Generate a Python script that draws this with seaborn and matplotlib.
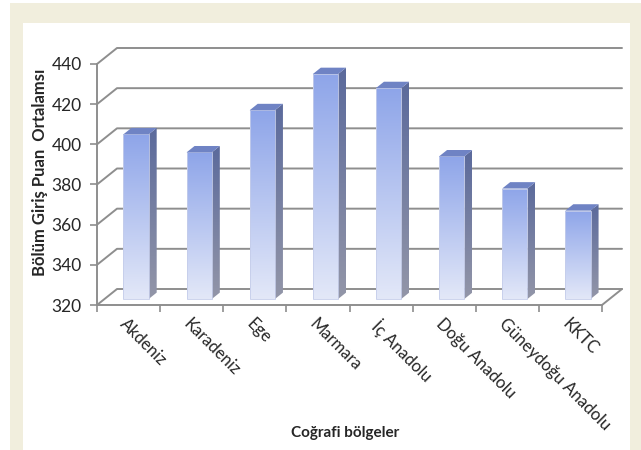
import numpy as np
import pandas as pd
import matplotlib
matplotlib.use('Agg')
import matplotlib.pyplot as plt
from matplotlib.patches import Rectangle, Polygon
from matplotlib.lines import Line2D
from matplotlib.colors import LinearSegmentedColormap
import seaborn as sns

# data
regions = ['Akdeniz', 'Karadeniz', 'Ege', 'Marmara', 'İç Anadolu',
           'Doğu Anadolu', 'Güneydoğu Anadolu', 'KKTC']
scores = [402, 393, 414, 432, 425, 391, 375, 364]
y_ticks = [320, 340, 360, 380, 400, 420, 440]

W, H, DPI = 641, 450, 100
DX, DY = 20, 16          # pixel shift of the back wall (pseudo 3d depth)
D0, D1 = 0.375, 0.775    # front / back depth of the bars

sns.set_theme(style='white')
plt.rcParams['font.family'] = ['Lato', 'DejaVu Sans']

fig = plt.figure(figsize=(W / DPI, H / DPI), dpi=DPI)
fig.patch.set_facecolor('white')

# beige frame + white panel
fig.add_artist(Rectangle((10 / W, 0), 631 / W, 447 / H, transform=fig.transFigure,
                         facecolor='#F1EEDD', edgecolor='none', zorder=0))
fig.add_artist(Rectangle((23 / W, 0), 607 / W, 427 / H, transform=fig.transFigure,
                         facecolor='white', edgecolor='none', zorder=0))

ax = fig.add_axes([97 / W, 1 - 305 / H, 505 / W, 241 / H])
ax.patch.set_visible(False)

df = pd.DataFrame({'region': regions, 'score': scores})
sns.barplot(data=df, x='region', y='score', width=0.4, color='#8EA5E9',
            saturation=1, ax=ax, zorder=3)
ax.set_xlim(-0.5, len(regions) - 0.5)
ax.set_ylim(y_ticks[0], y_ticks[-1])


def to_data(x, y, d):
    p = ax.transData.transform((x, y)) + np.array([d * DX, d * DY])
    return ax.transData.inverted().transform(p)


grid_c = '#8E8E8E'
x_lo, x_hi = -0.5, len(regions) - 0.5
for t in y_ticks:
    a, b, c = to_data(x_lo, t, 0), to_data(x_lo, t, 1), to_data(x_hi, t, 1)
    ax.add_line(Line2D([a[0], b[0], c[0]], [a[1], b[1], c[1]], color=grid_c,
                       lw=1.4, clip_on=False, zorder=1))
a, b = to_data(x_hi, y_ticks[0], 0), to_data(x_hi, y_ticks[0], 1)
ax.add_line(Line2D([a[0], b[0]], [a[1], b[1]], color=grid_c, lw=1.4,
                   clip_on=False, zorder=1))

front_cm = LinearSegmentedColormap.from_list('front', ['#E3E8F8', '#8EA5E9'])
side_cm = LinearSegmentedColormap.from_list('side', ['#9396A8', '#5B6A9C'])
grad = np.linspace(0, 1, 256).reshape(-1, 1)
base = y_ticks[0]

for p in list(ax.patches):
    x0, w, v = p.get_x(), p.get_width(), p.get_height()
    p.set_visible(False)
    # front face
    f = [to_data(x0, base, D0), to_data(x0 + w, base, D0),
         to_data(x0 + w, v, D0), to_data(x0, v, D0)]
    fpoly = Polygon(f, closed=True, facecolor='none', edgecolor='#C5CDEA',
                    lw=0.6, zorder=4)
    ax.add_patch(fpoly)
    im = ax.imshow(grad, extent=[f[0][0], f[1][0], f[0][1], f[2][1]],
                   origin='lower', cmap=front_cm, aspect='auto', zorder=3)
    im.set_clip_path(fpoly)
    # side face
    s = [to_data(x0 + w, base, D0), to_data(x0 + w, base, D1),
         to_data(x0 + w, v, D1), to_data(x0 + w, v, D0)]
    spoly = Polygon(s, closed=True, facecolor='none', edgecolor='none', zorder=4)
    ax.add_patch(spoly)
    im = ax.imshow(grad, extent=[s[0][0], s[1][0], s[0][1], s[2][1]],
                   origin='lower', cmap=side_cm, aspect='auto', zorder=3)
    im.set_clip_path(spoly)
    # top face
    tp = [to_data(x0, v, D0), to_data(x0 + w, v, D0),
          to_data(x0 + w, v, D1), to_data(x0, v, D1)]
    ax.add_patch(Polygon(tp, closed=True, facecolor='#6F83C4', edgecolor='none',
                         zorder=4))

ax.set_xlim(x_lo, x_hi)
ax.set_ylim(y_ticks[0], y_ticks[-1])

for side in ['top', 'right']:
    ax.spines[side].set_visible(False)
for side in ['left', 'bottom']:
    ax.spines[side].set_color(grid_c)
    ax.spines[side].set_linewidth(1.4)

ax.set_yticks(y_ticks)
ax.set_yticklabels([str(t) for t in y_ticks], fontsize=12.5)
ax.set_xticks(range(len(regions)))
ax.set_xticklabels(regions, rotation=-45, ha='left', va='top',
                   rotation_mode='anchor', fontsize=12)
ax.set_xticks(np.arange(-0.5, len(regions)), minor=True)
ax.tick_params(axis='x', which='major', length=0, pad=8)
ax.tick_params(axis='x', which='minor', length=5, width=1.2, color=grid_c,
               direction='out', bottom=True)
ax.tick_params(axis='y', length=5, width=1.2, color=grid_c, direction='out',
               left=True, pad=6)

ax.set_xlabel('')
ax.set_ylabel('')
fig.text(40 / W, 1 - 172 / H, 'Bölüm Giriş Puan  Ortalamsı', rotation=90,
         ha='center', va='center', fontsize=12, fontweight='bold')
fig.text(345 / W, 1 - 433 / H, 'Coğrafi bölgeler', ha='center', va='center',
         fontsize=11, fontweight='bold')

fig.savefig('out.png', dpi=DPI)
